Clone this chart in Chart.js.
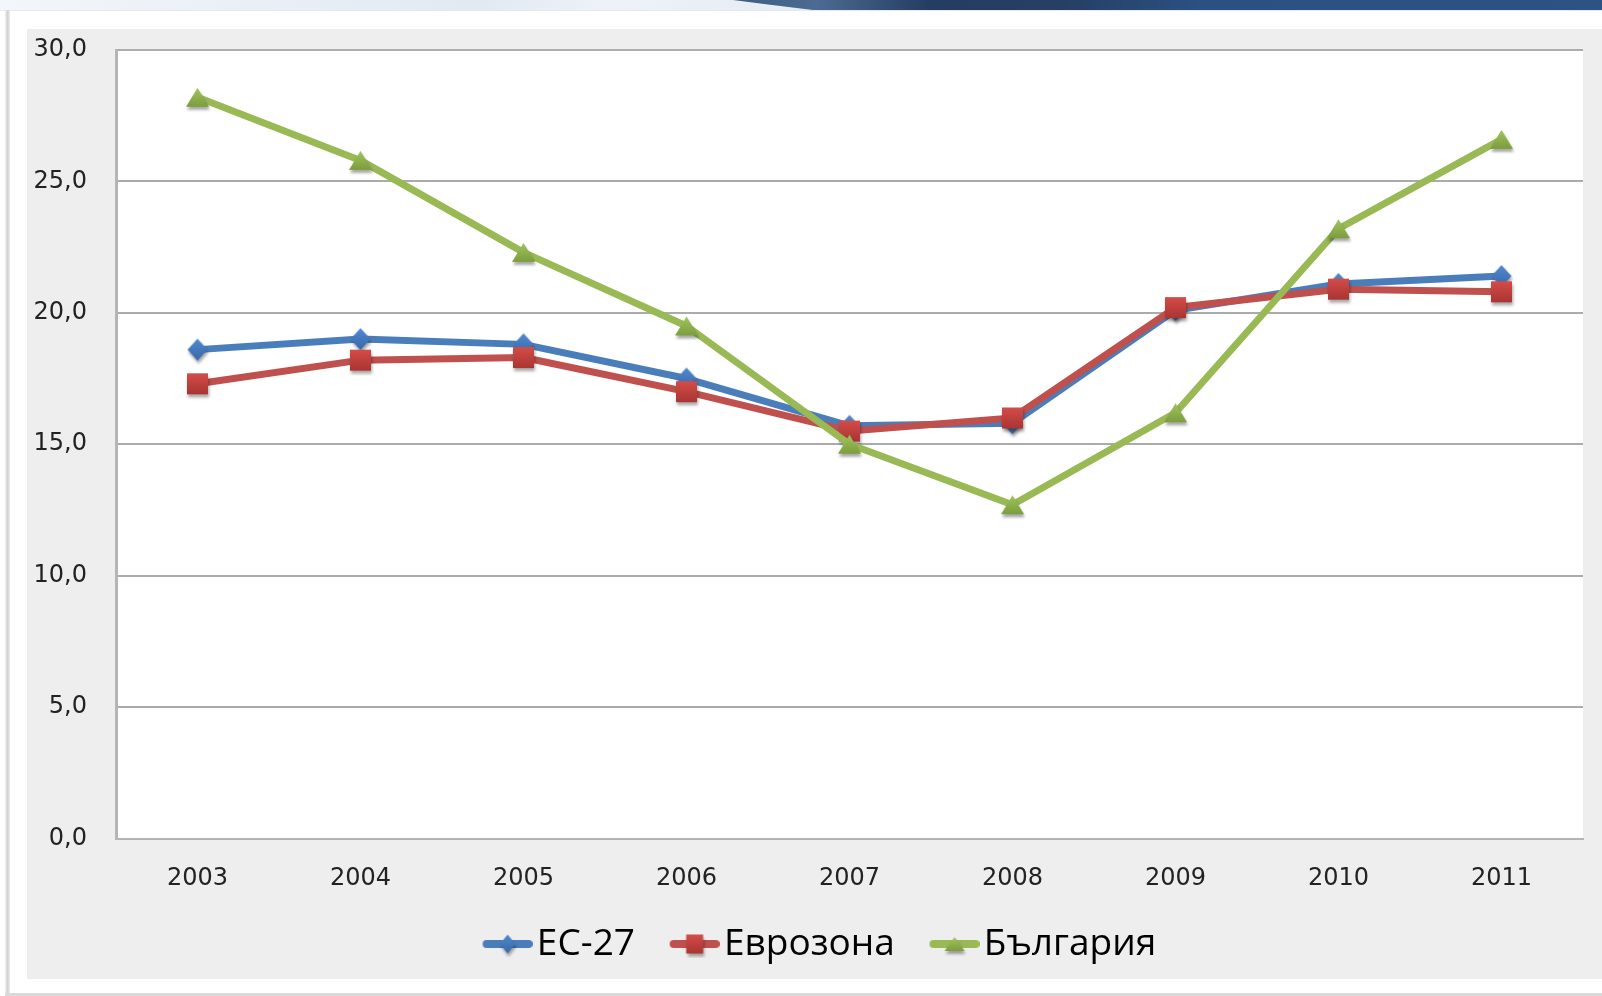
<!DOCTYPE html>
<html lang="bg">
<head>
<meta charset="utf-8">
<title>ЕС-27, Еврозона, България</title>
<script src="https://cdn.jsdelivr.net/npm/chart.js@4.4.1/dist/chart.umd.min.js"></script>
<style>
html,body{margin:0;padding:0;background:#fff;}
body{width:1602px;height:996px;position:relative;overflow:hidden;}
#bannerLight{position:absolute;left:0;top:0;width:1602px;height:10px;
  background:linear-gradient(90deg,#f3f6fa 0,#e2e9f3 30%,#eef2f8 38%,#dfe6f1 60%,#e8edf5 100%);}
#bannerDark{position:absolute;left:0;top:0;width:1602px;height:10px;
  background:linear-gradient(90deg,#3e5e87 0,#3e5e87 46%,#4c6a92 51%,#243d61 58%,#263f63 66%,#2b5082 75%,#2c5384 100%);
  clip-path:polygon(733px 0,1602px 0,1602px 10px,813px 10px);}
#bannerEdge{position:absolute;left:0;top:10px;width:1602px;height:1px;background:#e6eaef;}
#leftEdge{position:absolute;left:5px;top:10px;width:5px;height:986px;
  background:linear-gradient(90deg,#f2f2f2,#d3d3d3 50%,#ececec);}
#bottomEdge{position:absolute;left:5px;top:993px;width:1597px;height:3px;background:#d9d9d9;}
#panel{position:absolute;left:27px;top:29px;width:1575px;height:950px;background:#eeeeee;}
#panel canvas{display:block;}
</style>
</head>
<body>
<div id="bannerLight"></div>
<div id="bannerDark"></div>
<div id="bannerEdge"></div>
<div id="leftEdge"></div>
<div id="bottomEdge"></div>
<div id="panel"><canvas id="chart" width="1575" height="950"></canvas></div>
<script>
// данни
const years = ["2003","2004","2005","2006","2007","2008","2009","2010","2011"];
const eu27 = [18.6, 19.0, 18.8, 17.5, 15.7, 15.8, 20.1, 21.1, 21.4];
const eurozone = [17.3, 18.2, 18.3, 17.0, 15.5, 16.0, 20.2, 20.9, 20.8];
const bulgaria = [28.2, 25.8, 22.3, 19.5, 15.0, 12.7, 16.2, 23.2, 26.6];
const seriesNames = ["ЕС-27", "Еврозона", "България"];
const yMin = 0, yMax = 30, yStep = 5;

const FONT = "'Open Sans', 'Noto Sans', sans-serif";
const TICK_FONT = "'DejaVu Sans', 'Open Sans', sans-serif";
const lineColors = ["#4a7ebb", "#c0504d", "#98b954"];
const markerTop = ["#5089d2", "#d44c49", "#9fc65c"];
const markerBottom = ["#3867a6", "#a93532", "#7c9d3e"];

function shapePath(g, shape, cx, cy, w, h){
  if(shape==="diamond"){
    g.moveTo(cx, cy-h/2); g.lineTo(cx+w/2, cy); g.lineTo(cx, cy+h/2); g.lineTo(cx-w/2, cy);
  }else if(shape==="square"){
    g.rect(cx-w/2, cy-h/2, w, h);
  }else{
    g.moveTo(cx, cy-h/2); g.lineTo(cx+w/2, cy+h/2); g.lineTo(cx-w/2, cy+h/2);
  }
  g.closePath();
}
function fillMarker(g, shape, cx, cy, w, h, c1, c2){
  g.save();
  g.beginPath();
  shapePath(g, shape, cx, cy, w, h);
  const grad = g.createLinearGradient(0, cy-h/2, 0, cy+h/2);
  grad.addColorStop(0, c1); grad.addColorStop(1, c2);
  g.shadowColor = "rgba(0,0,0,0.35)";
  g.shadowBlur = 3; g.shadowOffsetX = 1; g.shadowOffsetY = 3;
  g.fillStyle = grad; g.fill();
  g.restore();
}
function makeMarker(shape, w, h, i){
  const pad = 7;
  const cv = document.createElement("canvas");
  cv.width = Math.ceil(w + pad*2); cv.height = Math.ceil(h + pad*2);
  fillMarker(cv.getContext("2d"), shape, cv.width/2, cv.height/2, w, h, markerTop[i], markerBottom[i]);
  return cv;
}
function makeLegendIcon(shape, w, h, i){
  const cv = document.createElement("canvas");
  cv.width = 93; cv.height = 28;
  const g = cv.getContext("2d");
  g.strokeStyle = lineColors[i]; g.lineWidth = 8; g.lineCap = "round";
  g.beginPath(); g.moveTo(47, 14); g.lineTo(89, 14); g.stroke();
  fillMarker(g, shape, 68, 14, w, h, markerTop[i], markerBottom[i]);
  return cv;
}

const markers = [
  makeMarker("diamond", 20, 22, 0),
  makeMarker("square", 21, 21, 1),
  makeMarker("triangle", 23, 19, 2)
];
const legendIcons = [
  makeLegendIcon("diamond", 15, 19, 0),
  makeLegendIcon("square", 17, 19, 1),
  makeLegendIcon("triangle", 20, 14, 2)
];

function series(i, data, order){
  return {
    label: seriesNames[i], data, order,
    borderColor: lineColors[i], borderWidth: 7,
    borderJoinStyle: "round", borderCapStyle: "round",
    tension: 0, fill: false,
    pointStyle: markers[i], pointRadius: 11, pointHoverRadius: 11
  };
}

// бял фон на зоната с графиката
const plotBg = {
  id: "plotBg",
  beforeDraw(chart){
    const a = chart.chartArea, ctx = chart.ctx;
    ctx.save(); ctx.fillStyle = "#fff";
    ctx.fillRect(a.left, a.top, a.right - a.left, a.bottom - a.top);
    ctx.restore();
  }
};

new Chart(document.getElementById("chart"), {
  type: "line",
  data: {
    labels: years,
    datasets: [series(0, eu27, 2), series(1, eurozone, 1), series(2, bulgaria, 0)]
  },
  plugins: [plotBg],
  options: {
    responsive: false, animation: false,
    layout: { padding: { left: 0, right: 19, top: 21, bottom: 6.5 } },
    plugins: {
      tooltip: { enabled: false },
      legend: {
        position: "bottom",
        labels: {
          usePointStyle: true, pointStyleWidth: 64.5, padding: 6,
          font: { family: FONT, size: 37 }, color: "#000",
          generateLabels: (chart) => chart.data.datasets.map((ds, i) => ({
            text: ds.label, pointStyle: legendIcons[i], datasetIndex: i,
            fontColor: "#000", fillStyle: "transparent", strokeStyle: "transparent", lineWidth: 0, hidden: false
          }))
        }
      }
    },
    scales: {
      x: {
        type: "category", offset: true,
        grid: { drawOnChartArea: false, drawTicks: false },
        border: { color: "#b3b3b3", width: 2 },
        ticks: { font: { family: TICK_FONT, size: 24 }, color: "#222", padding: 26, maxRotation: 0 },
        afterFit: (s) => { s.height = 81; }
      },
      y: {
        min: yMin, max: yMax,
        grid: { color: "#ababab", lineWidth: 2, drawTicks: true, tickLength: 29, tickColor: "rgba(0,0,0,0)" },
        border: { color: "#b5b5b5", width: 3 },
        ticks: {
          stepSize: yStep, padding: 0, color: "#222",
          font: { family: TICK_FONT, size: 24 },
          callback: (v) => v.toFixed(1).replace(".", ",")
        },
        afterFit: (s) => { s.width = 89; }
      }
    }
  }
});
</script>
</body>
</html>
